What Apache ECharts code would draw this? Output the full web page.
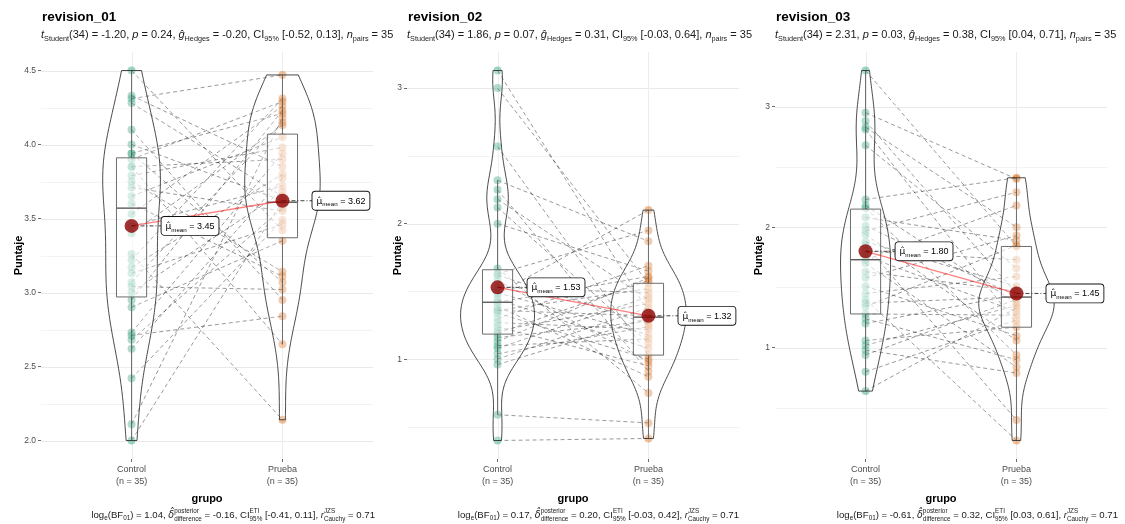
<!DOCTYPE html>
<html>
<head>
<meta charset="utf-8">
<script src="https://cdn.jsdelivr.net/npm/echarts@6/dist/echarts.min.js"></script>
<style>
  html, body { margin: 0; padding: 0; background: #ffffff; }
  #chart { width: 1125px; height: 524px; }
</style>
</head>
<body>
<div id="chart"></div>
<script>
// ---------- data ----------
const groups = ['Control', 'Prueba'];
const panelTitles = ['revision_01', 'revision_02', 'revision_03'];

// per-subject scores (same index = same subject)
const control01 = [4.5, 3.9, 4.33, 3.75, 4.31, 4.28, 4.1, 3.4, 4.0, 3.94, 3.94, 3.85, 3.85, 3.79, 3.71, 3.65, 3.6, 3.53, 3.45, 3.26, 3.22, 3.17, 3.13, 3.07, 3.04, 3.0, 2.95, 2.9, 2.73, 2.71, 2.68, 2.62, 2.42, 2.11, 2.0];
const prueba01  = [3.42, 4.29, 3.85, 3.14, 4.47, 3.65, 2.95, 4.13, 3.62, 4.21, 3.07, 3.9, 2.65, 3.98, 3.55, 4.05, 3.11, 4.26, 3.72, 2.14, 4.31, 3.8, 3.46, 4.15, 3.02, 3.68, 4.23, 3.35, 3.94, 2.84, 3.57, 3.77, 3.49, 4.18, 3.62];

const control02 = [3.13, 3.0, 2.57, 2.32, 2.25, 2.18, 2.12, 2.0, 1.67, 1.63, 1.62, 1.58, 1.53, 1.49, 1.48, 1.44, 1.42, 1.39, 1.36, 1.36, 1.34, 1.30, 1.27, 1.24, 1.21, 1.19, 1.16, 1.13, 1.1, 1.08, 1.04, 1.0, 0.96, 0.59, 0.40];
const prueba02  = [1.35, 1.56, 1.03, 1.87, 0.91, 1.44, 1.12, 1.65, 0.75, 1.95, 1.26, 0.98, 1.49, 1.18, 2.10, 1.08, 1.61, 0.87, 1.32, 1.52, 1.0, 1.69, 1.22, 0.95, 1.41, 1.58, 1.28, 1.6, 1.15, 1.46, 1.24, 1.38, 1.3, 0.53, 0.415];

const control03 = [3.30, 2.95, 2.88, 2.83, 2.81, 2.68, 2.23, 2.18, 2.16, 2.08, 2.01, 1.97, 1.94, 1.88, 1.85, 1.8, 1.76, 1.73, 1.7, 1.63, 1.58, 1.51, 1.45, 1.4, 1.37, 1.34, 1.28, 1.24, 1.20, 1.06, 1.02, 0.98, 0.94, 0.80, 0.64];
const prueba03  = [1.84, 2.4, 1.45, 2.0, 1.2, 1.66, 2.41, 1.37, 0.94, 1.89, 1.43, 2.29, 1.06, 1.51, 0.4, 1.73, 1.3, 2.18, 0.84, 1.47, 1.93, 1.1, 1.59, 0.23, 1.42, 1.85, 1.27, 0.9, 1.44, 1.17, 1.35, 0.79, 1.4, 1.23, 1.33];

// group means [Control, Prueba]
const means01 = [3.45, 3.62];
const means02 = [1.53, 1.32];
const means03 = [1.80, 1.45];

// box statistics [Control, Prueba]
const q1_01 = [2.97, 3.37], med01 = [3.57, 3.61], q3_01 = [3.91, 4.07];
const q1_02 = [1.185, 1.03], med02 = [1.42, 1.31], q3_02 = [1.66, 1.56];
const q1_03 = [1.28, 1.17], med03 = [1.73, 1.42], q3_03 = [2.15, 1.84];

// y axis ticks
const yTicks01 = [2.0, 2.5, 3.0, 3.5, 4.0, 4.5];
const yTickLabels01 = ['2.0', '2.5', '3.0', '3.5', '4.0', '4.5'];
const yMinor01 = [2.25, 2.75, 3.25, 3.75, 4.25];
const yTicks02 = [1, 2, 3], yTickLabels02 = ['1', '2', '3'], yMinor02 = [0.5, 1.5, 2.5];
const yTicks03 = [1, 2, 3], yTickLabels03 = ['1', '2', '3'], yMinor03 = [0.5, 1.5, 2.5];

// test statistics: [df, t, p, g, CI]
const tTest01 = ['34', '-1.20', '0.24', '-0.20', '[-0.52, 0.13]'];
const tTest02 = ['34', '1.86', '0.07', '0.31', '[-0.03, 0.64]'];
const tTest03 = ['34', '2.31', '0.03', '0.38', '[0.04, 0.71]'];
// Bayesian statistics: [log BF01, delta, CI, r]
const bayes01 = ['1.04', '-0.16', '[-0.41, 0.11]', '0.71'];
const bayes02 = ['0.17', '0.20', '[-0.03, 0.42]', '0.71'];
const bayes03 = ['-0.61', '0.32', '[0.03, 0.61]', '0.71'];

// ---------- layout & style ----------
const FONT = '"Liberation Sans", Arial, Helvetica, sans-serif';
const MATH_FONT = '"DejaVu Sans", "Liberation Sans", sans-serif';
const gridLefts = [41, 407, 775];
const gridW = 332, gridTop = 52, gridH = 407;
const captionRight = [375, 739, 1118];
const yNameGaps = [17, 4, 11];
const groupColors = ['rgba(27,158,119,0.55)', 'rgba(217,95,2,0.5)'];
const LABEL_DX = 30;

const panels = [
  { control: control01, prueba: prueba01, means: means01, q1: q1_01, med: med01, q3: q3_01, ticks: yTicks01, labels: yTickLabels01, minor: yMinor01, tt: tTest01, bf: bayes01 },
  { control: control02, prueba: prueba02, means: means02, q1: q1_02, med: med02, q3: q3_02, ticks: yTicks02, labels: yTickLabels02, minor: yMinor02, tt: tTest02, bf: bayes02 },
  { control: control03, prueba: prueba03, means: means03, q1: q1_03, med: med03, q3: q3_03, ticks: yTicks03, labels: yTickLabels03, minor: yMinor03, tt: tTest03, bf: bayes03 }
];

// ---------- helpers ----------
// Gaussian kernel density, Silverman bandwidth, trimmed to the data range
function density(vals, n) {
  const s = vals.slice().sort((a, b) => a - b);
  const N = s.length;
  const mean = s.reduce((a, b) => a + b, 0) / N;
  const sd = Math.sqrt(s.reduce((a, b) => a + (b - mean) * (b - mean), 0) / (N - 1));
  const q = p => { const h = (N - 1) * p, lo = Math.floor(h); return s[lo] + (h - lo) * (s[Math.min(lo + 1, N - 1)] - s[lo]); };
  let spread = Math.min(sd, (q(0.75) - q(0.25)) / 1.34);
  if (!(spread > 0)) spread = sd || 1;
  const bw = 0.9 * spread * Math.pow(N, -0.2);
  const ys = [], ds = [];
  for (let i = 0; i < n; i++) {
    const y = s[0] + (s[N - 1] - s[0]) * i / (n - 1);
    let d = 0;
    for (const v of s) { const z = (y - v) / bw; d += Math.exp(-0.5 * z * z); }
    ys.push(y); ds.push(d / (N * bw * Math.sqrt(2 * Math.PI)));
  }
  return { ys, ds };
}

const mctx = document.createElement('canvas').getContext('2d');
function fontStr(size, italic, bold, family) { return (italic ? 'italic ' : '') + (bold ? 'bold ' : '') + size + 'px ' + (family || FONT); }
function textW(t, f) { mctx.font = f; return mctx.measureText(t).width; }

// lays out a line of text with italics, subscripts and stacked super/subscripts
function mathLine(segs, x0, cy, size, align, color) {
  const small = size * 0.66;
  const items = [];
  let x = 0;
  for (const s of segs) {
    if (s.t) { const f = fontStr(size, s.it, false, s.math ? MATH_FONT : FONT); items.push({ text: s.t, f, x, y: 0 }); x += textW(s.t, f); }
    let w = 0;
    if (s.sup) { const f = fontStr(small, false); items.push({ text: s.sup, f, x, y: -size * 0.42 }); w = Math.max(w, textW(s.sup, f)); }
    if (s.sub) { const f = fontStr(small, false); items.push({ text: s.sub, f, x, y: s.sup ? size * 0.40 : size * 0.32 }); w = Math.max(w, textW(s.sub, f)); }
    x += w;
  }
  const start = align === 'right' ? x0 - x : x0;
  return items.map(it => ({
    type: 'text', x: start + it.x, y: cy + it.y, silent: true,
    style: { text: it.text, font: it.f, fill: color || '#1a1a1a', textAlign: 'left', textVerticalAlign: 'middle', verticalAlign: 'middle' }
  }));
}

function subtitleSegs(tt, n) {
  return [
    { t: 't', it: true, sub: 'Student' }, { t: '(' + tt[0] + ') = ' + tt[1] + ', ' },
    { t: 'p', it: true }, { t: ' = ' + tt[2] + ', ' },
    { t: 'ĝ', it: true, sub: 'Hedges' }, { t: ' = ' + tt[3] + ', CI', sub: '95%' },
    { t: ' ' + tt[4] + ', ' }, { t: 'n', it: true, sub: 'pairs' }, { t: ' = ' + n }
  ];
}
function captionSegs(bf) {
  return [
    { t: 'log', sub: 'e' }, { t: '(BF', sub: '01' }, { t: ') = ' + bf[0] + ', ' },
    { t: 'δ\u0302', it: true, math: true, sup: 'posterior', sub: 'difference' }, { t: ' = ' + bf[1] + ', CI', sup: 'ETI', sub: '95%' },
    { t: ' ' + bf[2] + ', ' }, { t: 'r', it: true, sup: 'JZS', sub: 'Cauchy' }, { t: ' = ' + bf[3] }
  ];
}

// ---------- option ----------
const grids = [], xAxes = [], yAxes = [], series = [], graphics = [];

panels.forEach((p, i) => {
  const all = p.control.concat(p.prueba);
  const dMin = Math.min(...all), dMax = Math.max(...all);
  const pad = 0.05 * (dMax - dMin);
  const yMin = dMin - pad, yMax = dMax + pad;
  const n = p.control.length;

  grids.push({ left: gridLefts[i], top: gridTop, width: gridW, height: gridH });
  xAxes.push({
    type: 'value', gridIndex: i, min: 0.4, max: 2.6,
    axisLine: { show: false }, splitLine: { show: false },
    axisTick: { show: true, customValues: [1, 2], length: 3, lineStyle: { color: '#444', width: 0.8 } },
    axisLabel: {
      customValues: [1, 2], color: '#4d4d4d', fontSize: 9, lineHeight: 12, margin: 5, fontFamily: FONT,
      formatter: v => groups[Math.round(v) - 1] + '\n(n = ' + n + ')'
    },
    name: 'grupo', nameLocation: 'middle', nameGap: 34, nameMoveOverlap: false,
    nameTextStyle: { fontWeight: 'bold', fontSize: 11, color: '#000', fontFamily: FONT }
  });
  yAxes.push({
    type: 'value', gridIndex: i, min: yMin, max: yMax,
    axisLine: { show: false }, splitLine: { show: false },
    axisTick: { show: true, customValues: p.ticks, length: 3, lineStyle: { color: '#444', width: 0.8 } },
    axisLabel: {
      customValues: p.ticks, color: '#4d4d4d', fontSize: 8.5, margin: 5, fontFamily: FONT,
      formatter: v => { const k = p.ticks.findIndex(t => Math.abs(t - v) < 1e-9); return k >= 0 ? p.labels[k] : ''; }
    },
    name: 'Puntaje', nameLocation: 'middle', nameGap: yNameGaps[i], nameMoveOverlap: false,
    nameTextStyle: { fontWeight: 'bold', fontSize: 11, color: '#000', fontFamily: FONT }
  });

  const ax = { xAxisIndex: i, yAxisIndex: i };

  // panel grid lines: [value, kind] kind 0 major-h, 1 minor-h, 2 vertical
  const gridData = p.ticks.map(v => [v, 0]).concat(p.minor.map(v => [v, 1])).concat([[1, 2], [2, 2]]);
  series.push(Object.assign({
    type: 'custom', silent: true, z: 0, data: gridData,
    encode: { x: -1, y: -1 },
    renderItem: (params, api) => {
      const cs = params.coordSys;
      const v = gridData[params.dataIndex][0], k = gridData[params.dataIndex][1];
      if (k === 2) {
        const px = Math.round(api.coord([v, yMin])[0]) + 0.5;
        return { type: 'line', shape: { x1: px, y1: cs.y, x2: px, y2: cs.y + cs.height }, style: { stroke: '#ececec', lineWidth: 1 } };
      }
      const py = Math.round(api.coord([0.4, v])[1]) + 0.5;
      return { type: 'line', shape: { x1: cs.x, y1: py, x2: cs.x + cs.width, y2: py }, style: { stroke: k ? '#f3f3f3' : '#e9e9e9', lineWidth: 1 } };
    }
  }, ax));

  // individual points
  [p.control, p.prueba].forEach((vals, g) => {
    series.push(Object.assign({
      type: 'scatter', z: 1, silent: true, symbol: 'circle', symbolSize: 8,
      itemStyle: { color: groupColors[g] },
      data: vals.map(v => [g + 1, v])
    }, ax));
  });

  // paired paths
  const pairData = p.control.map((c, k) => [c, p.prueba[k]]);
  series.push(Object.assign({
    type: 'custom', silent: true, z: 2, data: pairData, encode: { x: -1, y: -1 },
    renderItem: (params, api) => {
      const d = pairData[params.dataIndex];
      const a = api.coord([1, d[0]]), b = api.coord([2, d[1]]);
      return { type: 'line', shape: { x1: a[0], y1: a[1], x2: b[0], y2: b[1] }, style: { stroke: 'rgba(0,0,0,0.45)', lineWidth: 0.9, lineDash: [4, 3] } };
    }
  }, ax));

  // box plots (whiskers at 1.5 IQR, outliers not marked)
  series.push(Object.assign({
    type: 'custom', silent: true, z: 3, data: [[1, p.med[0]], [2, p.med[1]]], encode: { x: -1, y: -1 },
    renderItem: (params, api) => {
      const g = params.dataIndex, vals = g ? p.prueba : p.control, x0 = g + 1;
      const q1 = p.q1[g], md = p.med[g], q3 = p.q3[g], iqr = q3 - q1;
      const lo = Math.min(...vals.filter(v => v >= q1 - 1.5 * iqr));
      const hi = Math.max(...vals.filter(v => v <= q3 + 1.5 * iqr));
      const tl = api.coord([x0 - 0.1, q3]), br = api.coord([x0 + 0.1, q1]);
      const m = api.coord([x0, md]), c = api.coord([x0, 0]);
      const pl = api.coord([x0, lo]), ph = api.coord([x0, hi]);
      const st = { stroke: '#333', lineWidth: 0.9 };
      return {
        type: 'group', children: [
          { type: 'line', shape: { x1: c[0], y1: ph[1], x2: c[0], y2: tl[1] }, style: st },
          { type: 'line', shape: { x1: c[0], y1: br[1], x2: c[0], y2: pl[1] }, style: st },
          { type: 'rect', shape: { x: tl[0], y: tl[1], width: br[0] - tl[0], height: br[1] - tl[1] }, style: { fill: 'rgba(255,255,255,0.5)', stroke: '#333', lineWidth: 0.9 } },
          { type: 'line', shape: { x1: tl[0], y1: m[1], x2: br[0], y2: m[1] }, style: { stroke: '#333', lineWidth: 1.4 } }
        ]
      };
    }
  }, ax));

  // violins (area-scaled, max width 0.5)
  const kd = [density(p.control, 160), density(p.prueba, 160)];
  const maxD = Math.max(...kd[0].ds, ...kd[1].ds);
  series.push(Object.assign({
    type: 'custom', silent: true, z: 4, data: [[1, p.means[0]], [2, p.means[1]]], encode: { x: -1, y: -1 },
    renderItem: (params, api) => {
      const g = params.dataIndex, k = kd[g], x0 = g + 1;
      const right = k.ys.map((y, j) => api.coord([x0 + 0.25 * k.ds[j] / maxD, y]));
      const left = k.ys.map((y, j) => api.coord([x0 - 0.25 * k.ds[j] / maxD, y])).reverse();
      return { type: 'polygon', shape: { points: right.concat(left) }, style: { fill: 'rgba(255,255,255,0.2)', stroke: '#333', lineWidth: 0.9 } };
    }
  }, ax));

  // path joining the means
  series.push(Object.assign({
    type: 'line', silent: true, z: 5, symbol: 'none',
    lineStyle: { color: 'rgba(255,0,0,0.5)', width: 1.3 },
    data: [[1, p.means[0]], [2, p.means[1]]]
  }, ax));

  // mean labels with connector
  const meanData = [[1, p.means[0]], [2, p.means[1]]];
  series.push(Object.assign({
    type: 'custom', silent: true, z: 6, data: meanData, encode: { x: -1, y: -1 },
    renderItem: (params, api) => {
      const d = meanData[params.dataIndex];
      const pt = api.coord(d);
      const bx = pt[0] + LABEL_DX;
      return {
        type: 'group', children: [
          { type: 'line', shape: { x1: pt[0], y1: pt[1], x2: bx, y2: pt[1] }, style: { stroke: '#111', lineWidth: 0.8, lineDash: [4, 2, 1, 2] } },
          {
            type: 'text', x: bx, y: pt[1],
            style: {
              text: '{m|μ\u0302}{s|mean}{v| = ' + d[1].toFixed(2) + '}',
              rich: {
                m: { fontSize: 9, fontFamily: MATH_FONT, fill: '#000', color: '#000', lineHeight: 13 },
                s: { fontSize: 6.2, fontFamily: FONT, fill: '#000', color: '#000', lineHeight: 8, verticalAlign: 'bottom' },
                v: { fontSize: 9, fontFamily: FONT, fill: '#000', color: '#000', lineHeight: 13 }
              },
              textAlign: 'left', verticalAlign: 'middle', textVerticalAlign: 'middle',
              backgroundColor: '#ffffff', borderColor: '#111', borderWidth: 0.9, borderRadius: 3,
              padding: [3, 4, 2, 4]
            }
          }
        ]
      };
    }
  }, ax));

  // mean points
  series.push(Object.assign({
    type: 'scatter', z: 7, silent: true, symbol: 'circle', symbolSize: 14,
    itemStyle: { color: '#8b0000' },
    data: meanData
  }, ax));

  // title, subtitle, caption
  graphics.push({
    type: 'text', x: gridLefts[i] + 1, y: 17.5, silent: true,
    style: { text: panelTitles[i], font: fontStr(13.5, false, true), fill: '#000', textAlign: 'left', textVerticalAlign: 'middle', verticalAlign: 'middle' }
  });
  graphics.push(...mathLine(subtitleSegs(p.tt, n), gridLefts[i], 35, 11, 'left', '#1a1a1a'));
  graphics.push(...mathLine(captionSegs(p.bf), captionRight[i], 515, 9.6, 'right', '#1a1a1a'));
});

const chart = echarts.init(document.getElementById('chart'), null, { renderer: 'canvas' });
chart.setOption({
  animation: false,
  backgroundColor: '#ffffff',
  textStyle: { fontFamily: FONT },
  grid: grids,
  xAxis: xAxes,
  yAxis: yAxes,
  series: series,
  graphic: graphics
});
</script>
</body>
</html>
